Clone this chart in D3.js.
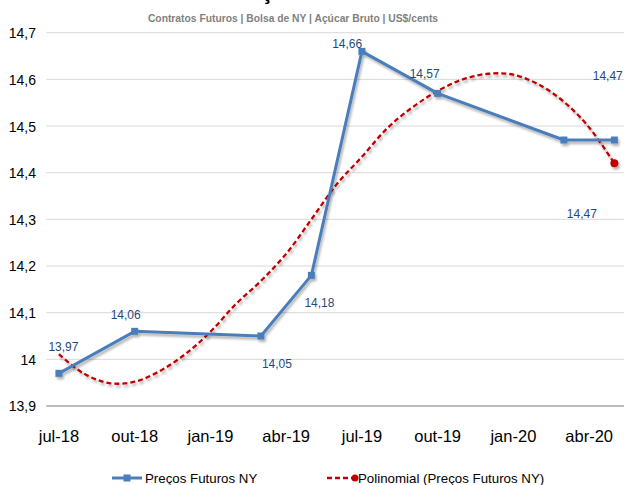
<!DOCTYPE html>
<html lang="pt">
<head>
  <meta charset="UTF-8">
  <title>Preços Futuros NY</title>
  <script src="https://cdn.jsdelivr.net/npm/d3@7"></script>
  <style>
    body { margin: 0; background: #fff; }
    svg text { font-family: "Liberation Sans", Arial, sans-serif; }
  </style>
</head>
<body>
<div id="grafica"></div>

<script>
// meses do eixo (base mensal, como no Excel)
meses = ['jul-18','ago-18','set-18','out-18','nov-18','dez-18','jan-19','fev-19','mar-19','abr-19','mai-19','jun-19',
         'jul-19','ago-19','set-19','out-19','nov-19','dez-19','jan-20','fev-20','mar-20','abr-20','mai-20']
rotulosX = ['jul-18','out-18','jan-19','abr-19','jul-19','out-19','jan-20','abr-20']

// contratos
contratos = ['jul-18','out-18','mar-19','mai-19','jul-19','out-19','mar-20','mai-20']
precos    = [13.97, 14.06, 14.05, 14.18, 14.66, 14.57, 14.47, 14.47]

// linha de tendência polinomial, um valor por mês
tendencia = [14.011, 13.969, 13.949, 13.952, 13.975, 14.011, 14.059, 14.118, 14.168, 14.226, 14.30, 14.375,
             14.434, 14.495, 14.54, 14.575, 14.60, 14.612, 14.61, 14.589, 14.552, 14.497, 14.42]

ticksY = [13.9, 14.0, 14.1, 14.2, 14.3, 14.4, 14.5, 14.6, 14.7]

// deslocamento dos rótulos de dados (posicionados à mão no original)
offRotulo = [[4.5,-27],[-9,-17],[16,27.5],[8,27.5],[-14.7,-8],[-13,-20],[18,74],[-6.6,-64]]

ancho_total = 624
alto_total = 485

svg = d3.select('#grafica')
  .append('svg')
  .attr('width', ancho_total)
  .attr('height', alto_total)

defs = svg.append('defs')
defs.append('filter')
    .attr('id', 'sombra')
    .attr('x', '-10%').attr('y', '-10%').attr('width', '120%').attr('height', '130%')
  .append('feDropShadow')
    .attr('dx', 1.5).attr('dy', 2.5)
    .attr('stdDeviation', 1.3)
    .attr('flood-color', '#000')
    .attr('flood-opacity', 0.3)

x = d3.scaleBand()
  .domain(meses)
  .range([46.3, 627])
  .padding(0)
cx = (m) => x(m) + x.bandwidth() / 2

y = d3.scaleLinear()
  .domain([13.9, 14.7])
  .range([406, 32.7])

pt = d3.formatLocale({decimal: ',', thousands: '.', grouping: [3], currency: ['', '']})
fmtY = pt.format('.1~f')
fmtD = pt.format('.2f')

// título (cortado no topo) e subtítulo
svg.append('text')
  .attr('x', 245).attr('y', -1)
  .attr('font-size', 22).attr('font-weight', 'bold').attr('fill', '#000')
  .text('Açúcar')

svg.append('text')
  .attr('x', 293).attr('y', 21.5)
  .attr('text-anchor', 'middle')
  .attr('font-size', 10.3).attr('font-weight', 'bold')
  .attr('fill', '#7f7f7f')
  .text('Contratos Futuros | Bolsa de NY | Açúcar Bruto | US$/cents')

// grade
svg.append('g')
  .selectAll('line')
  .data(ticksY)
  .enter()
  .append('line')
    .attr('x1', 46.3).attr('x2', 627)
    .attr('y1', (d) => y(d)).attr('y2', (d) => y(d))
    .attr('stroke', (d) => d == 13.9 ? '#a6a6a6' : '#d9d9d9')
    .attr('stroke-width', (d) => d == 13.9 ? 1.3 : 1)

// eixo Y
yAxis = d3.axisLeft(y).tickValues(ticksY).tickFormat(fmtY).tickSize(0).tickPadding(0)
gy = svg.append('g')
  .attr('transform', 'translate(36,0.5)')
  .call(yAxis)
gy.select('.domain').remove()
gy.selectAll('text')
  .attr('font-size', 14)
  .attr('fill', '#000')
  .attr('font-family', null)

// eixo X
xAxis = d3.axisBottom(x).tickValues(rotulosX).tickSize(0).tickPadding(0)
gx = svg.append('g')
  .attr('transform', 'translate(0,430)')
  .call(xAxis)
gx.select('.domain').remove()
gx.selectAll('text')
  .attr('font-size', 16.5)
  .attr('fill', '#000')
  .attr('font-family', null)

// tendência
linhaT = d3.line()
  .x((d, i) => cx(meses[i]))
  .y((d) => y(d))
  .curve(d3.curveCatmullRom)

gT = svg.append('g').attr('filter', 'url(#sombra)')
gT.append('path')
  .datum(tendencia)
  .attr('d', linhaT)
  .attr('fill', 'none')
  .attr('stroke', '#c00000')
  .attr('stroke-width', 2.3)
  .attr('stroke-dasharray', '5,3')
gT.append('circle')
  .attr('cx', cx(meses[meses.length - 1]))
  .attr('cy', y(tendencia[tendencia.length - 1]))
  .attr('r', 4)
  .attr('fill', '#c00000')

// série de preços
dados = contratos.map((c, i) => ({mes: c, valor: precos[i]}))

linha = d3.line()
  .x((d) => cx(d.mes))
  .y((d) => y(d.valor))

gS = svg.append('g').attr('filter', 'url(#sombra)')
gS.append('path')
  .datum(dados)
  .attr('d', linha)
  .attr('fill', 'none')
  .attr('stroke', '#4a7ebb')
  .attr('stroke-width', 3)
  .attr('stroke-linejoin', 'round')

gS.selectAll('rect')
  .data(dados)
  .enter()
  .append('rect')
    .attr('x', (d) => cx(d.mes) - 3.5)
    .attr('y', (d) => y(d.valor) - 3.5)
    .attr('width', 7)
    .attr('height', 7)
    .attr('fill', '#4a7ebb')

// rótulos de dados
svg.append('g')
  .selectAll('text')
  .data(dados)
  .enter()
  .append('text')
    .attr('x', (d, i) => cx(d.mes) + offRotulo[i][0])
    .attr('y', (d, i) => y(d.valor) + offRotulo[i][1])
    .attr('dy', '0.35em')
    .attr('text-anchor', 'middle')
    .attr('font-size', 12)
    .attr('fill', '#1f497d')
    .text((d) => fmtD(d.valor))

// legenda
leg = svg.append('g').attr('transform', 'translate(0,478)')
leg.append('line')
  .attr('x1', 112).attr('x2', 142)
  .attr('stroke', '#4a7ebb').attr('stroke-width', 3)
leg.append('rect')
  .attr('x', 123.5).attr('y', -3.5).attr('width', 7).attr('height', 7)
  .attr('fill', '#4a7ebb')
leg.append('text')
  .attr('x', 145).attr('dy', '0.35em')
  .attr('font-size', 13.3)
  .text('Preços Futuros NY')

leg.append('line')
  .attr('x1', 327).attr('x2', 353)
  .attr('stroke', '#c00000').attr('stroke-width', 2.3)
  .attr('stroke-dasharray', '5,3')
leg.append('circle')
  .attr('cx', 355).attr('r', 3.5)
  .attr('fill', '#c00000')
leg.append('text')
  .attr('x', 358).attr('dy', '0.35em')
  .attr('font-size', 13.3)
  .text('Polinomial (Preços Futuros NY)')
</script>
</body>
</html>
